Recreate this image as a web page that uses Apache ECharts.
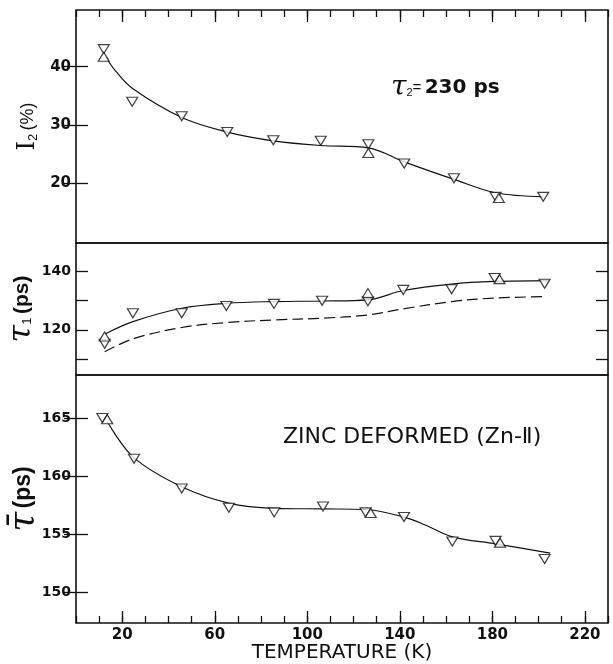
<!DOCTYPE html>
<html>
<head>
<meta charset="utf-8">
<script src="https://cdn.jsdelivr.net/npm/echarts@6/dist/echarts.min.js"></script>
<style>
  html, body { margin: 0; padding: 0; background: #fff; }
  #chart { width: 613px; height: 664px; }
</style>
</head>
<body>
<div id="chart"></div>
<script>
// temperature ticks (K)
const xMajor = [20, 60, 100, 140, 180, 220]

// top panel: I2 (%)
const i2Down = [[12, 43.0], [24.3, 34.0], [45.7, 31.5], [65.4, 28.8], [85.3, 27.4], [105.8, 27.3], [126.4, 26.7], [141.9, 23.4], [163.4, 20.9], [181.4, 17.7], [202, 17.7]]
const i2Up = [[12, 41.7], [126.4, 25.2], [182.8, 17.5]]
const i2Fit = [[12.8, 41.7], [17, 39.3], [24.3, 36.3], [45.7, 31.3], [65.4, 28.8], [85.3, 27.3], [105.8, 26.5], [126.4, 26.1], [141.9, 23.7], [163.4, 20.7], [181.4, 18.4], [202, 17.7]]
const i2Ticks = [20, 30, 40]

// middle panel: tau1 (ps)
const t1Down = [[12.4, 115.2], [24.6, 125.7], [45.7, 125.7], [65, 128.2], [85.6, 128.9], [106.4, 130.0], [126.2, 129.8], [141.5, 133.7], [162.4, 133.9], [181, 137.8], [202.6, 135.8]]
const t1Up = [[12.4, 117.7], [126.2, 132.6], [183.1, 137.4]]
const t1Fit = [[12.4, 118.5], [24.6, 122.8], [45.7, 127.4], [65, 129.1], [85.6, 129.7], [106.4, 129.9], [126.2, 130.3], [141.5, 133.5], [162.4, 135.7], [181, 136.6], [204.5, 136.9]]
const t1Dash = [[12.4, 112.5], [24.6, 116.9], [45.7, 120.8], [65, 122.5], [85.6, 123.4], [106.4, 124.0], [126.2, 125.1], [141.5, 127.2], [162.4, 129.7], [181, 130.9], [203, 131.4]]
const t1Ticks = [110, 120, 130, 140]
const t1Labels = [120, 140]

// bottom panel: mean lifetime (ps)
const tmDown = [[11.4, 165.0], [25.1, 161.5], [45.7, 158.95], [66.1, 157.3], [85.7, 156.9], [106.8, 157.4], [125.2, 156.9], [141.8, 156.5], [162.7, 154.4], [181.4, 154.45], [202.6, 152.9]]
const tmUp = [[13.5, 164.9], [127.4, 156.85], [183.3, 154.3]]
const tmFit = [[13.5, 164.7], [25, 161.6], [45.7, 159.1], [66, 157.7], [85.7, 157.25], [106.8, 157.2], [125, 157.15], [141.8, 156.5], [151.2, 155.8], [162.7, 154.8], [181.4, 154.2], [205, 153.4]]
const tmTicks = [150, 155, 160, 165]

const ink = '#111'
const sans = 'Liberation Sans, Arial, sans-serif'
const wide = 'DejaVu Sans, sans-serif'
const serif = 'DejaVu Serif, Liberation Serif, serif'

const grids = [
    { left: 76, right: 5, top: 10, height: 233 },
    { left: 76, right: 5, top: 243, height: 132 },
    { left: 76, right: 5, top: 375, height: 248 }
].map(g => Object.assign(g, { show: true, borderColor: ink, borderWidth: 1.6, outerBoundsMode: 'none' }))

function xShort(grid, pos, show) {
    return {
        type: 'value', gridIndex: grid, position: pos, min: 0, max: 230, interval: 10, show: show,
        axisLine: { show: false }, splitLine: { show: false }, axisLabel: { show: false },
        axisTick: { show: true, inside: true, length: 7, lineStyle: { color: ink, width: 1.3 } }
    }
}
function xLong(grid, pos, labels) {
    return {
        type: 'value', gridIndex: grid, position: pos, min: 0, max: 230,
        axisLine: { show: false }, splitLine: { show: false },
        axisTick: { show: true, inside: true, length: 12, customValues: xMajor, lineStyle: { color: ink, width: 1.3 } },
        axisLabel: { show: labels, customValues: xMajor, color: ink, fontFamily: wide, fontWeight: 'bold', fontSize: 15, margin: 5 },
        name: labels ? 'TEMPERATURE (K)' : '', nameLocation: 'middle', nameGap: 20, nameMoveOverlap: false,
        nameTextStyle: { color: ink, fontFamily: wide, fontSize: 20 }
    }
}
const nameRich = {
    i: { fontFamily: serif, fontSize: 24, color: ink },
    t: { fontFamily: serif, fontStyle: 'italic', fontSize: 32, color: ink },
    b: { fontFamily: serif, fontStyle: 'italic', fontSize: 36, color: ink },
    s: { fontFamily: sans, fontSize: 13, color: ink, padding: [10, 0, 0, 0] },
    p: { fontFamily: sans, fontWeight: 'bold', fontSize: 21, color: ink },
    r: { fontFamily: sans, fontWeight: 'bold', fontSize: 23, color: ink },
    q: { fontFamily: sans, fontSize: 18, color: ink }
}
function yAxis(grid, pos, min, max, ticks, labels, size, name, gap) {
    return {
        type: 'value', gridIndex: grid, position: pos, min: min, max: max,
        axisLine: { show: false }, splitLine: { show: false },
        axisTick: { show: true, inside: true, length: 12, customValues: ticks, lineStyle: { color: ink, width: 1.3 } },
        axisLabel: { show: pos === 'left', customValues: labels, color: ink, fontFamily: wide, fontWeight: 'bold', fontSize: size, margin: 5 },
        name: name || '', nameLocation: 'middle', nameGap: gap || 40, nameMoveOverlap: false,
        nameTextStyle: { color: ink, rich: nameRich }
    }
}

function curve(x, y, data, dashed) {
    return {
        type: 'line', xAxisIndex: x, yAxisIndex: y, data: data, smooth: 0.35, symbol: 'none', silent: true,
        lineStyle: { color: ink, width: 1.2, type: dashed ? [11, 5] : 'solid' }
    }
}
function marks(x, y, data, down) {
    return {
        type: 'scatter', xAxisIndex: x, yAxisIndex: y, data: data, symbol: 'triangle',
        symbolRotate: down ? 180 : 0, symbolSize: [11, 9], z: 5,
        itemStyle: { color: '#fff', borderColor: ink, borderWidth: 1.2 }
    }
}

const chart = echarts.init(document.getElementById('chart'), null, { renderer: 'canvas' })
chart.setOption({
    animation: false,
    backgroundColor: '#fff',
    grid: grids,
    xAxis: [
        xShort(0, 'top', true), xLong(0, 'top', false),
        xShort(1, 'bottom', false),
        xShort(2, 'bottom', true), xLong(2, 'bottom', true)
    ],
    yAxis: [
        yAxis(0, 'left', 9.8, 49.7, i2Ticks, i2Ticks, 15, '{i|I}{s|2} {q|(%)}', 36),
        yAxis(0, 'right', 9.8, 49.7, i2Ticks, i2Ticks, 15),
        yAxis(1, 'left', 104.5, 149.8, t1Ticks, t1Labels, 14, '{t|τ}{s|1} {p|(ps)}', 38),
        yAxis(1, 'right', 104.5, 149.8, t1Ticks, t1Labels, 14),
        yAxis(2, 'left', 147.4, 168.7, tmTicks, tmTicks, 14, '{b|τ\u0304} {r|(ps)}', 34),
        yAxis(2, 'right', 147.4, 168.7, tmTicks, tmTicks, 14)
    ],
    graphic: [
        {
            type: 'text', left: 391, top: 74,
            style: {
                text: '{t|τ}{s|2}{e|=} {n|230 ps}',
                rich: {
                    t: { fontFamily: serif, fontStyle: 'italic', fontSize: 28, fill: ink },
                    s: { fontFamily: sans, fontSize: 11, fill: ink, padding: [10, 0, 0, 0] },
                    e: { fontFamily: sans, fontSize: 15, fill: ink },
                    n: { fontFamily: wide, fontWeight: 'bold', fontSize: 20, fill: ink }
                }
            }
        },
        {
            type: 'text', left: 283, top: 426,
            style: { text: 'ZINC DEFORMED (Zn-\u2161)', fontFamily: wide, fontSize: 22, fill: ink }
        }
    ],
    series: [
        curve(0, 0, i2Fit), marks(0, 0, i2Down, true), marks(0, 0, i2Up, false),
        curve(2, 2, t1Fit), curve(2, 2, t1Dash, true), marks(2, 2, t1Down, true), marks(2, 2, t1Up, false),
        curve(3, 4, tmFit), marks(3, 4, tmDown, true), marks(3, 4, tmUp, false)
    ]
})
</script>
</body>
</html>
